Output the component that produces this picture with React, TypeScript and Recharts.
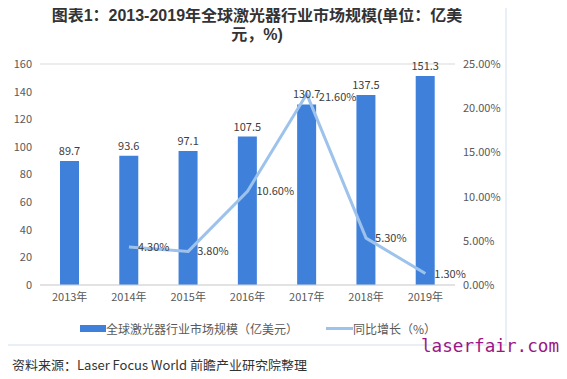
import React from 'react';
import {
  ComposedChart,
  Bar,
  Line,
  XAxis,
  YAxis,
  CartesianGrid,
  LabelList,
} from 'recharts';

const years = ['2013年', '2014年', '2015年', '2016年', '2017年', '2018年', '2019年'];
const marketSize = [89.7, 93.6, 97.1, 107.5, 130.7, 137.5, 151.3];
const growth = [null, 4.3, 3.8, 10.6, 21.6, 5.3, 1.3];
const leftTicks = [0, 20, 40, 60, 80, 100, 120, 140, 160];
const rightTicks = [0, 5, 10, 15, 20, 25];

const BAR_COLOR = '#3f80db';
const LINE_COLOR = '#9dc3ec';
const FONT = '"Noto Sans CJK SC", "Noto Sans", sans-serif';

const data = years.map((year, i) => ({
  year,
  size: marketSize[i],
  growth: growth[i],
}));

// growth labels sit to the right of the point; the peak one sits a bit lower
const GrowthLabel = (props: any) => {
  const { x, y, value, index } = props;
  if (value == null) return null;
  const dx = index === 4 ? 12 : 9;
  const dy = index === 4 ? 7 : 4;
  return (
    <text
      x={x + dx}
      y={y}
      dy={dy}
      fontSize={11}
      fill="#404040"
      fontFamily={FONT}
      textAnchor="start"
    >
      {`${Number(value).toFixed(2)}%`}
    </text>
  );
};

export default function App() {
  return (
    <div
      style={{
        position: 'relative',
        width: 567,
        height: 379,
        margin: -8,
        background: '#fff',
        overflow: 'hidden',
        fontFamily: FONT,
      }}
    >
      {/* frame lines */}
      <div style={{ position: 'absolute', left: 505, top: 0, width: 2, height: 345, background: '#e9eff6' }} />
      <div style={{ position: 'absolute', left: 4, top: 344, width: 503, height: 2, background: '#e9eff6' }} />

      <div
        style={{
          position: 'absolute',
          left: 42,
          top: 6,
          width: 430,
          textAlign: 'center',
          fontSize: 16,
          fontWeight: 'bold',
          lineHeight: '19px',
          color: '#333',
          fontFamily: '"Liberation Sans", "Noto Sans CJK SC", sans-serif',
        }}
      >
        图表1：2013-2019年全球激光器行业市场规模(单位：亿美
        <br />
        元，%)
      </div>

      <div style={{ position: 'absolute', left: 0, top: 0 }}>
        <ComposedChart
          width={567}
          height={379}
          data={data}
          margin={{ top: 64, right: 62, bottom: 72, left: 10 }}
        >
          <CartesianGrid vertical={false} stroke="#d9d9d9" />
          <XAxis
            dataKey="year"
            height={22}
            tickLine={false}
            axisLine={{ stroke: '#d9d9d9' }}
            tick={{ fontSize: 11, fill: '#595959', fontFamily: FONT }}
          />
          <YAxis
            yAxisId="left"
            width={30}
            domain={[0, 160]}
            ticks={leftTicks}
            tickLine={false}
            axisLine={false}
            tick={{ fontSize: 11, fill: '#595959', fontFamily: FONT }}
          />
          <YAxis
            yAxisId="right"
            orientation="right"
            width={50}
            domain={[0, 25]}
            ticks={rightTicks}
            tickLine={false}
            axisLine={false}
            tickFormatter={(v: number) => `${v.toFixed(2)}%`}
            tick={{ fontSize: 11, fill: '#595959', fontFamily: FONT }}
          />
          <Bar yAxisId="left" dataKey="size" fill={BAR_COLOR} barSize={19} isAnimationActive={false}>
            <LabelList
              dataKey="size"
              position="top"
              offset={6}
              style={{ fontSize: 11, fill: '#404040', fontFamily: FONT }}
            />
          </Bar>
          <Line
            yAxisId="right"
            dataKey="growth"
            stroke={LINE_COLOR}
            strokeWidth={3}
            dot={false}
            activeDot={false}
            connectNulls={false}
            isAnimationActive={false}
          >
            <LabelList dataKey="growth" content={GrowthLabel} />
          </Line>
        </ComposedChart>
      </div>

      {/* legend */}
      <div
        style={{
          position: 'absolute',
          top: 320,
          left: 80,
          display: 'flex',
          alignItems: 'center',
          fontSize: 12,
          color: '#595959',
          whiteSpace: 'nowrap',
        }}
      >
        <span style={{ display: 'inline-block', width: 26, height: 7, background: BAR_COLOR }} />
        <span>全球激光器行业市场规模（亿美元）</span>
        <span style={{ display: 'inline-block', width: 27, height: 3, background: LINE_COLOR, marginLeft: 28 }} />
        <span>同比增长（%）</span>
      </div>

      <svg
        width={144}
        height={36}
        style={{ position: 'absolute', left: 419, top: 330 }}
      >
        <text
          x={2}
          y={22}
          fontSize={17}
          fill="#9a1784"
          fontFamily='"DejaVu Sans Mono", "Liberation Mono", monospace'
          textLength={138}
          lengthAdjust="spacingAndGlyphs"
        >
          laserfair.com
        </text>
      </svg>

      <div
        style={{
          position: 'absolute',
          left: 12,
          top: 356,
          fontSize: 13,
          lineHeight: '18px',
          color: '#333',
          whiteSpace: 'nowrap',
        }}
      >
        资料来源：Laser Focus World 前瞻产业研究院整理
      </div>
    </div>
  );
}
